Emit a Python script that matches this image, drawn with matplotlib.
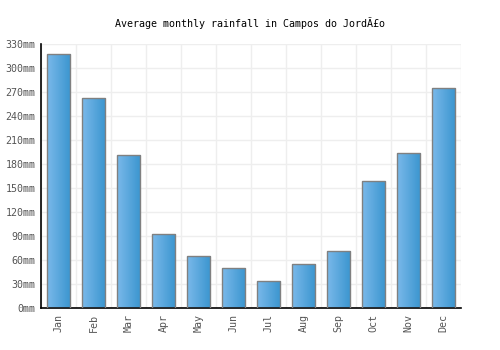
import matplotlib
matplotlib.use("Agg")
import matplotlib.pyplot as plt
import numpy as np
from matplotlib.colors import LinearSegmentedColormap

months = ["Jan", "Feb", "Mar", "Apr", "May", "Jun", "Jul", "Aug", "Sep", "Oct", "Nov", "Dec"]
rainfall = [317, 263, 191, 92, 65, 50, 34, 55, 71, 159, 194, 275]
yticks = [0, 30, 60, 90, 120, 150, 180, 210, 240, 270, 300, 330]
title = "Average monthly rainfall in Campos do JordÃ£o"

plt.rcParams['font.family'] = ['DejaVu Sans Mono']
fig = plt.figure(figsize=(5, 3.5), dpi=100)
ax = fig.add_axes([0.082, 0.12, 0.84, 0.754])

x = np.arange(len(months))
bars = ax.bar(x, rainfall, width=0.68, color='none', edgecolor='#808080', linewidth=1, zorder=3)
cmap = LinearSegmentedColormap.from_list('g', ['#7ab9ea', '#3a95cf'])
grad = np.linspace(0, 1, 64).reshape(1, -1)
for b in bars:
    x0, w, h = b.get_x(), b.get_width(), b.get_height()
    im = ax.imshow(grad, cmap=cmap, aspect='auto', extent=[x0, x0 + w, 0, h], zorder=2,
                   interpolation='bilinear')
    im.set_clip_path(b)

ax.set_xlim(-0.5, len(months) - 0.5)
ax.set_ylim(0, 330)
ax.set_yticks(yticks)
ax.set_yticklabels([f"{v}mm" for v in yticks])
ax.set_xticks(x)
ax.set_xticklabels(months, rotation=90)
ax.set_xticks(np.arange(-0.5, len(months), 1), minor=True)
ax.grid(True, which='major', axis='y', color='#eeeeee', linewidth=1, zorder=0)
ax.grid(True, which='minor', axis='x', color='#eeeeee', linewidth=1, zorder=0)
ax.tick_params(which='both', length=0, labelsize=7.2, labelcolor='#555555', pad=4)
for s in ['top', 'right']:
    ax.spines[s].set_visible(False)
for s in ['left', 'bottom']:
    ax.spines[s].set_color('black')
    ax.spines[s].set_linewidth(1.2)
ax.set_axisbelow(True)
fig.text(0.5, 0.935, title, ha='center', va='center', fontsize=7.2, color='black')
fig.savefig("out.png", dpi=100)
